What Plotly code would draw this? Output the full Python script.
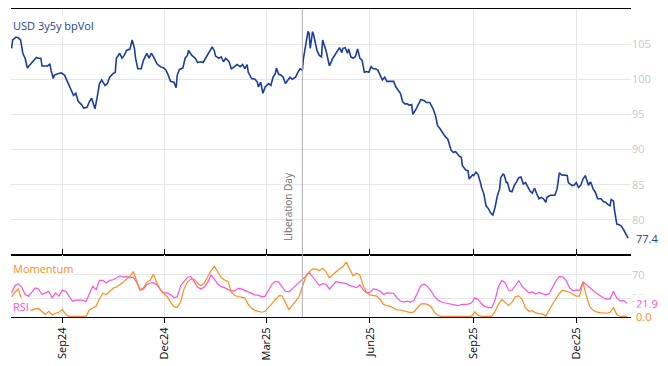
import pandas as pd
import plotly.graph_objects as go

# ---------------- data ----------------
main_dates = [
"2024-07-18","2024-07-19","2024-07-22","2024-07-24","2024-07-26","2024-07-28","2024-07-30","2024-08-01","2024-08-03","2024-08-06",
"2024-08-09","2024-08-11","2024-08-13","2024-08-14","2024-08-17","2024-08-19","2024-08-21","2024-08-22","2024-08-24","2024-08-25",
"2024-08-28","2024-08-31","2024-09-03","2024-09-06","2024-09-09","2024-09-11","2024-09-13","2024-09-15","2024-09-18","2024-09-20",
"2024-09-23","2024-09-25","2024-09-27","2024-09-29","2024-09-30","2024-10-02","2024-10-04","2024-10-06","2024-10-09","2024-10-11",
"2024-10-13","2024-10-16","2024-10-18","2024-10-19","2024-10-22","2024-10-24","2024-10-26","2024-10-28","2024-10-31","2024-11-02",
"2024-11-04","2024-11-05","2024-11-07","2024-11-10","2024-11-12","2024-11-15","2024-11-17","2024-11-19","2024-11-21","2024-11-24",
"2024-11-27","2024-11-30","2024-12-02","2024-12-04","2024-12-06","2024-12-09","2024-12-11","2024-12-12","2024-12-14","2024-12-17",
"2024-12-19","2024-12-21","2024-12-22","2024-12-25","2024-12-28","2024-12-30","2025-01-02","2025-01-04","2025-01-07","2025-01-09",
"2025-01-12","2025-01-14","2025-01-15","2025-01-18","2025-01-20","2025-01-22","2025-01-24","2025-01-27","2025-01-29","2025-02-01",
"2025-02-03","2025-02-06","2025-02-08","2025-02-10","2025-02-12","2025-02-13","2025-02-16","2025-02-19","2025-02-21","2025-02-22",
"2025-02-24","2025-02-26","2025-02-28","2025-03-03","2025-03-05","2025-03-07","2025-03-09","2025-03-10","2025-03-12","2025-03-14",
"2025-03-16","2025-03-18","2025-03-20","2025-03-22","2025-03-24","2025-03-27","2025-03-29","2025-03-31","2025-04-02","2025-04-03",
"2025-04-05","2025-04-07","2025-04-08","2025-04-09","2025-04-11","2025-04-12","2025-04-15","2025-04-17","2025-04-19","2025-04-20",
"2025-04-23","2025-04-24","2025-04-26","2025-04-29","2025-05-01","2025-05-02","2025-05-05","2025-05-07","2025-05-08","2025-05-10",
"2025-05-12","2025-05-13","2025-05-15","2025-05-17","2025-05-19","2025-05-21","2025-05-23","2025-05-25","2025-05-27","2025-05-29",
"2025-05-31","2025-06-02","2025-06-04","2025-06-06","2025-06-08","2025-06-10","2025-06-12","2025-06-14","2025-06-16","2025-06-19",
"2025-06-22","2025-06-24","2025-06-26","2025-06-28","2025-06-30","2025-07-02","2025-07-04","2025-07-06","2025-07-08","2025-07-09",
"2025-07-12","2025-07-14","2025-07-16","2025-07-19","2025-07-21","2025-07-24","2025-07-27","2025-07-29","2025-07-31","2025-08-02",
"2025-08-05","2025-08-07","2025-08-09","2025-08-10","2025-08-12","2025-08-14","2025-08-16","2025-08-19","2025-08-21","2025-08-22",
"2025-08-25","2025-08-27","2025-08-28","2025-08-31","2025-09-01","2025-09-03","2025-09-05","2025-09-07","2025-09-08","2025-09-10",
"2025-09-12","2025-09-14","2025-09-16","2025-09-18","2025-09-20","2025-09-22","2025-09-24","2025-09-25","2025-09-27","2025-09-28",
"2025-09-30","2025-10-01","2025-10-03","2025-10-05","2025-10-07","2025-10-09","2025-10-11","2025-10-13","2025-10-15","2025-10-17",
"2025-10-19","2025-10-21","2025-10-23","2025-10-25","2025-10-27","2025-10-29","2025-10-31","2025-11-02","2025-11-04","2025-11-05",
"2025-11-08","2025-11-10","2025-11-12","2025-11-14","2025-11-16","2025-11-18","2025-11-21","2025-11-23","2025-11-24","2025-11-27",
"2025-11-29","2025-12-01","2025-12-03","2025-12-05","2025-12-07","2025-12-09","2025-12-10","2025-12-12","2025-12-13","2025-12-14",
"2025-12-16","2025-12-18","2025-12-20","2025-12-23","2025-12-25","2025-12-27","2025-12-29","2025-12-31","2026-01-01","2026-01-03",
"2026-01-04","2026-01-06","2026-01-08","2026-01-10","2026-01-12","2026-01-14","2026-01-16",
]
main_vol = [
104.4,105.6,106.0,105.9,105.6,103.7,103.0,101.6,102.0,102.5,
103.1,103.0,103.0,101.9,101.9,101.9,102.2,101.3,100.1,100.6,
100.8,100.9,100.6,99.6,98.4,97.7,98.0,96.9,96.4,95.9,
96.0,96.8,97.3,96.4,95.8,97.5,99.4,99.9,99.1,99.4,
100.3,100.8,101.0,103.0,103.7,103.0,103.4,104.1,104.3,105.6,
104.4,103.0,101.5,101.5,102.7,103.7,103.0,103.7,103.2,102.2,
101.8,101.6,101.3,100.6,99.7,99.6,98.8,100.6,101.4,101.6,
103.0,103.4,104.1,103.4,103.0,102.4,102.5,102.4,103.2,103.7,
104.6,104.0,103.3,103.0,103.2,102.5,103.0,102.5,101.5,101.8,
102.1,101.8,102.1,101.5,102.1,101.0,100.1,100.0,99.6,98.9,
99.6,98.0,98.9,99.4,99.1,100.3,100.8,101.6,100.7,100.6,
100.3,99.4,99.9,100.3,100.0,100.3,101.0,101.5,101.3,103.0,
104.9,106.8,106.5,104.4,106.8,106.3,104.1,103.4,103.2,105.6,
104.1,103.2,101.9,103.0,103.5,103.6,104.5,103.8,104.4,104.5,
103.7,104.3,103.2,103.0,103.2,104.3,103.0,102.7,101.0,101.1,
101.0,101.8,101.5,101.5,101.3,100.6,99.9,100.3,99.7,99.7,
99.7,98.9,98.4,98.0,96.8,96.5,96.5,96.3,96.4,95.0,
95.8,96.4,97.1,97.0,96.7,96.7,95.8,94.9,93.4,93.0,
92.2,91.8,91.5,91.0,89.9,89.6,89.7,89.1,88.9,87.7,
87.1,87.0,85.8,86.4,86.3,86.8,86.4,85.3,84.6,83.7,
82.0,81.6,81.0,80.7,81.8,83.4,84.4,86.0,86.5,86.4,
85.3,85.3,84.1,84.0,84.9,85.4,86.0,86.1,85.1,85.3,
84.6,84.1,83.8,84.5,83.7,83.0,83.2,83.0,82.5,83.2,
83.5,83.5,83.5,84.4,86.7,86.4,86.4,86.3,85.3,84.9,
84.9,85.3,84.6,84.9,85.8,86.3,85.8,84.9,85.3,85.3,
84.4,83.9,83.0,83.0,82.6,82.5,82.2,82.0,82.9,82.7,
81.3,79.4,79.3,79.1,78.6,78.0,77.4,
]

ind_start = "2024-07-18"
ind_step = "3D"
rsi = [
39.6,51.7,55.1,49.5,36.8,34.1,40.7,47.9,46.2,36.8,
39.6,42.3,31.3,39.6,34.1,44.0,42.3,34.1,25.8,27.4,
27.4,27.4,24.7,36.8,50.6,45.1,60.6,60.6,56.2,60.6,
61.7,64.5,68.3,66.1,67.2,65.0,66.1,57.3,44.0,46.2,
53.4,56.2,56.7,52.9,45.1,39.6,39.6,36.8,31.3,33.0,
51.7,58.4,65.6,67.2,58.9,49.5,46.2,49.5,57.3,69.4,
62.8,54.5,50.1,48.4,45.1,42.9,42.9,47.3,46.2,44.0,
41.8,38.5,36.3,35.7,33.0,34.1,45.1,54.0,58.9,57.8,
49.5,42.3,41.2,46.8,51.2,56.7,62.3,67.2,74.4,66.7,
59.5,52.3,55.1,54.0,46.2,52.3,58.4,57.3,56.2,55.1,
52.3,50.6,48.4,52.9,44.6,39.6,40.7,46.2,45.1,42.3,
36.8,39.6,39.6,39.0,30.7,25.8,24.1,25.8,24.1,26.9,
39.0,51.7,54.5,50.6,43.5,34.1,28.0,24.7,23.0,21.9,
20.8,19.1,18.0,19.7,20.2,20.8,22.5,31.3,28.5,20.8,
16.9,14.7,14.7,27.4,50.6,60.6,56.2,44.0,44.0,52.3,
60.0,50.6,45.1,39.6,41.2,37.4,40.2,38.0,36.3,38.0,
47.9,60.0,67.2,66.7,60.6,48.4,42.9,44.6,44.0,57.8,
53.4,47.9,43.5,39.0,34.6,31.3,29.1,29.6,42.3,30.7,
25.8,26.9,21.9,
]
momentum = [
33.0,40.7,46.2,28.5,17.5,11.9,10.2,13.0,13.0,7.5,
3.1,8.6,2.5,5.3,7.0,11.9,3.6,0.0,0.0,0.0,
0.0,0.0,0.0,10.8,13.6,17.5,29.6,39.0,36.8,41.8,
47.3,49.5,53.4,57.3,62.8,67.2,75.5,60.0,45.1,47.9,
57.3,60.6,71.1,56.2,45.1,38.5,33.5,24.1,16.4,15.3,
24.1,46.2,57.8,62.3,62.3,56.2,51.7,56.2,67.2,77.2,
84.4,73.9,65.0,61.2,58.9,40.7,35.2,33.5,31.8,31.3,
20.2,13.6,10.2,8.6,7.0,8.6,14.7,20.8,28.5,34.6,
34.6,21.4,11.4,18.6,26.9,33.0,49.5,67.2,75.0,80.0,
79.4,77.2,81.1,75.0,65.0,70.0,74.4,80.0,83.3,91.6,
79.4,68.3,72.8,69.4,51.7,40.1,36.3,35.7,34.1,28.5,
20.2,18.0,16.9,14.2,10.8,10.8,9.7,8.0,6.4,7.5,
14.2,20.8,21.4,20.2,16.9,7.5,2.0,0.0,0.0,0.0,
0.0,0.0,0.0,0.0,0.0,0.0,0.0,7.5,2.0,0.0,
0.0,0.0,0.0,8.6,20.2,28.5,23.0,18.6,24.1,33.0,
34.6,28.5,14.2,8.6,9.7,5.8,4.7,4.2,0.5,11.4,
20.8,29.6,39.0,44.0,42.9,40.7,37.4,34.1,34.1,57.3,
34.1,16.4,10.2,7.5,6.4,5.8,5.3,7.0,14.7,3.1,
0.0,0.0,0.0,
]

tick_dates = ["2024-09-01","2024-12-01","2025-03-01","2025-06-01","2025-09-01","2025-12-01"]
tick_labels = ["Sep24","Dec24","Mar25","Jun25","Sep25","Dec25"]
event_date = "2025-04-02"
event_label = "Liberation Day"
main_name = "USD 3y5y bpVol"

# ---------------- styling ----------------
BLUE = "#1b3d9e"
ORANGE = "#ff8c1a"
PINK = "#ff4fdc"
GRID = "#e6e6e6"
FONT = "Open Sans"

ind_dates = pd.date_range(ind_start, periods=len(rsi), freq=ind_step)

fig = go.Figure()
fig.add_trace(go.Scatter(x=pd.to_datetime(main_dates), y=main_vol, mode="lines",
                         line=dict(color=BLUE, width=1.6), xaxis="x", yaxis="y",
                         showlegend=False))
fig.add_trace(go.Scatter(x=ind_dates, y=rsi, mode="lines",
                         line=dict(color=PINK, width=1.2), xaxis="x2", yaxis="y2",
                         showlegend=False))
fig.add_trace(go.Scatter(x=ind_dates, y=momentum, mode="lines",
                         line=dict(color=ORANGE, width=1.2), xaxis="x2", yaxis="y2",
                         showlegend=False))

xr = ["2024-07-17 12:00", "2026-01-18 14:00"]
split = 62 / 308

fig.update_layout(
    width=668, height=366,
    margin=dict(l=11, r=37, t=9, b=49, autoexpand=False),
    paper_bgcolor="white", plot_bgcolor="white",
    font=dict(family=FONT, size=11, color="black"),
    xaxis=dict(domain=[0, 1], anchor="y", range=xr, type="date", automargin=False,
               tickvals=tick_dates, ticktext=tick_labels, showticklabels=False,
               showgrid=True, gridcolor=GRID, gridwidth=1, zeroline=False,
               showline=True, linecolor="black", linewidth=1, mirror=True, ticks=""),
    yaxis=dict(domain=[split, 1], anchor="x", side="right", range=[75, 110],
               automargin=False,
               tickvals=[80, 85, 90, 95, 100, 105], showgrid=True, gridcolor=GRID,
               zeroline=False, showline=False, ticks="",
               tickfont=dict(color="#c8c8c8", size=11)),
    xaxis2=dict(domain=[0, 1], anchor="y2", range=xr, type="date", matches="x",
                automargin=False,
                tickvals=tick_dates, ticktext=tick_labels, tickangle=-90,
                showgrid=True, gridcolor=GRID, zeroline=False,
                showline=True, linecolor="black", linewidth=1, mirror="ticks",
                ticks="outside", ticklen=5, tickcolor="black", tickwidth=1,
                tickfont=dict(color="black", size=11)),
    yaxis2=dict(domain=[0, split], anchor="x2", side="right", range=[-1, 103.3],
                automargin=False,
                tickvals=[30, 70], showgrid=True, gridcolor=GRID,
                zeroline=False, showline=False, ticks="",
                tickfont=dict(color="#c8c8c8", size=11)),
)

# event line across both panels
fig.add_shape(type="line", xref="x", yref="paper", x0=event_date, x1=event_date,
              y0=0, y1=1, line=dict(color="#b0b0b0", width=1))
fig.add_annotation(x=event_date, xref="x", y=(317 - 243) / 308, yref="paper",
                   text=event_label, textangle=-90, showarrow=False,
                   xanchor="right", yanchor="bottom", xshift=-6,
                   font=dict(color="#6e6e6e", size=10, family=FONT))

LBG = "rgba(255,255,255,0.75)"
fig.add_annotation(x=0, xref="paper", y=0.945, yref="paper", text=main_name,
                   showarrow=False, xanchor="left", yanchor="middle",
                   font=dict(color=BLUE, size=11), bgcolor=LBG)
fig.add_annotation(x=0, xref="paper", y=(317 - 268) / 308, yref="paper", text="Momentum",
                   showarrow=False, xanchor="left", yanchor="middle",
                   font=dict(color=ORANGE, size=11), bgcolor=LBG)
fig.add_annotation(x=0, xref="paper", y=(317 - 306) / 308, yref="paper", text="RSI",
                   showarrow=False, xanchor="left", yanchor="middle",
                   font=dict(color=PINK, size=11), bgcolor=LBG)

# last-value labels
fig.add_annotation(x=1, xref="paper", y=main_vol[-1], yref="y", text=f"{main_vol[-1]:.1f}",
                   showarrow=False, xanchor="left", yanchor="middle", xshift=3,
                   font=dict(color=BLUE, size=11), bgcolor="white")
fig.add_annotation(x=1, xref="paper", y=rsi[-1], yref="y2", text=f"{rsi[-1]:.1f}",
                   showarrow=False, xanchor="left", yanchor="middle", xshift=3,
                   font=dict(color=PINK, size=11), bgcolor="white")
fig.add_annotation(x=1, xref="paper", y=momentum[-1], yref="y2", text=f"{momentum[-1]:.1f}",
                   showarrow=False, xanchor="left", yanchor="middle", xshift=3,
                   font=dict(color=ORANGE, size=11), bgcolor="white")

fig.write_html("out.html",
               config={"displayModeBar": False},
               post_script="document.body.style.margin='0';document.body.style.padding='0';document.body.style.overflow='hidden';")
